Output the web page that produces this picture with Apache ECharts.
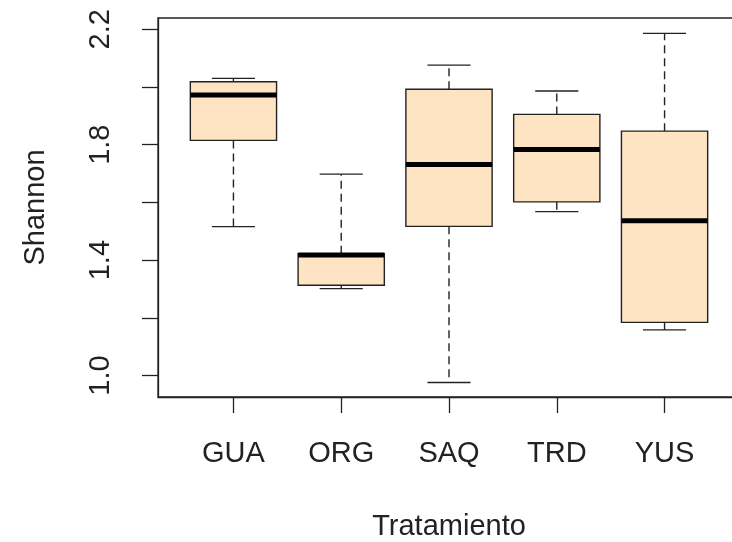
<!DOCTYPE html>
<html>
<head>
<meta charset="utf-8">
<script src="https://cdn.jsdelivr.net/npm/echarts@6/dist/echarts.min.js"></script>
<style>
html,body{margin:0;padding:0;background:#fff;}
#chart{width:732px;height:542px;}
</style>
</head>
<body>
<div id="chart"></div>
<script>
const categories = ['GUA', 'ORG', 'SAQ', 'TRD', 'YUS'];
const whiskerLow  = [1.516, 1.301, 0.976, 1.568, 1.158];
const quart1      = [1.815, 1.313, 1.517, 1.602, 1.184];
const medians     = [1.972, 1.418, 1.731, 1.783, 1.536];
const quart3      = [2.018, 1.422, 1.992, 1.905, 1.847];
const whiskerHigh = [2.030, 1.698, 2.076, 1.986, 2.186];
const yTicks  = [1.0, 1.2, 1.4, 1.6, 1.8, 2.0, 2.2];
const yLabels = [1.0, 1.4, 1.8, 2.2];
const xPositions = [1, 2, 3, 4, 5];

const FONT = '"Liberation Sans", Arial, sans-serif';
const INK = '#222';

const boxData = categories.map((c, i) => [xPositions[i], whiskerLow[i], quart1[i], medians[i], quart3[i], whiskerHigh[i]]);

function renderBox(params, api) {
  const x = api.value(0);
  const lo = api.coord([x, api.value(1)]);
  const q1 = api.coord([x, api.value(2)]);
  const md = api.coord([x, api.value(3)]);
  const q3 = api.coord([x, api.value(4)]);
  const hi = api.coord([x, api.value(5)]);
  const cx = lo[0];
  const bw = api.size([0.8, 0])[0];
  const cw = api.size([0.4, 0])[0];
  const lw = 1.4;
  return {
    type: 'group',
    children: [
      {type: 'line', shape: {x1: cx, y1: q3[1], x2: cx, y2: hi[1]}, style: {stroke: INK, lineWidth: lw, lineDash: [8, 5]}},
      {type: 'line', shape: {x1: cx, y1: q1[1], x2: cx, y2: lo[1]}, style: {stroke: INK, lineWidth: lw, lineDash: [8, 5]}},
      {type: 'line', shape: {x1: cx - cw / 2, y1: hi[1], x2: cx + cw / 2, y2: hi[1]}, style: {stroke: INK, lineWidth: lw}},
      {type: 'line', shape: {x1: cx - cw / 2, y1: lo[1], x2: cx + cw / 2, y2: lo[1]}, style: {stroke: INK, lineWidth: lw}},
      {type: 'rect', shape: {x: cx - bw / 2, y: q3[1], width: bw, height: q1[1] - q3[1]}, style: {fill: '#FFE4C4', stroke: INK, lineWidth: lw}},
      {type: 'line', shape: {x1: cx - bw / 2, y1: md[1], x2: cx + bw / 2, y2: md[1]}, style: {stroke: '#000', lineWidth: 5}}
    ]
  };
}

const chart = echarts.init(document.getElementById('chart'), null, {renderer: 'canvas'});
chart.setOption({
  animation: false,
  backgroundColor: '#fff',
  grid: {left: 158, top: 18, width: 582, height: 379, show: true, borderColor: INK, borderWidth: 1.3,
    backgroundColor: 'transparent', containLabel: false, outerBoundsMode: 'none'},
  xAxis: {
    type: 'value', min: 0.3, max: 5.7,
    name: 'Tratamiento', nameLocation: 'middle', nameGap: 115,
    nameTextStyle: {fontFamily: FONT, fontSize: 29, color: INK},
    axisLine: {show: true, lineStyle: {color: INK, width: 1.3}},
    axisTick: {show: true, length: 16, lineStyle: {color: INK, width: 1.3}, customValues: xPositions},
    axisLabel: {show: true, margin: 42, fontFamily: FONT, fontSize: 29, color: INK, customValues: xPositions,
      formatter: v => categories[Math.round(v) - 1] || ''},
    splitLine: {show: false}
  },
  yAxis: {
    type: 'value', min: 0.9255, max: 2.2392,
    name: 'Shannon', nameLocation: 'middle', nameGap: 108, nameRotate: 90,
    nameTextStyle: {fontFamily: FONT, fontSize: 29, color: INK},
    axisLine: {show: true, lineStyle: {color: INK, width: 1.3}},
    axisTick: {show: true, length: 16, lineStyle: {color: INK, width: 1.3}, customValues: yTicks},
    axisLabel: {show: true, rotate: 90, margin: 43, fontFamily: FONT, fontSize: 29, color: INK, customValues: yLabels,
      formatter: v => Number(v).toFixed(1)},
    splitLine: {show: false}
  },
  series: [{
    type: 'custom',
    renderItem: renderBox,
    data: boxData,
    encode: {x: 0, y: [1, 2, 3, 4, 5]}
  }]
});
</script>
</body>
</html>
